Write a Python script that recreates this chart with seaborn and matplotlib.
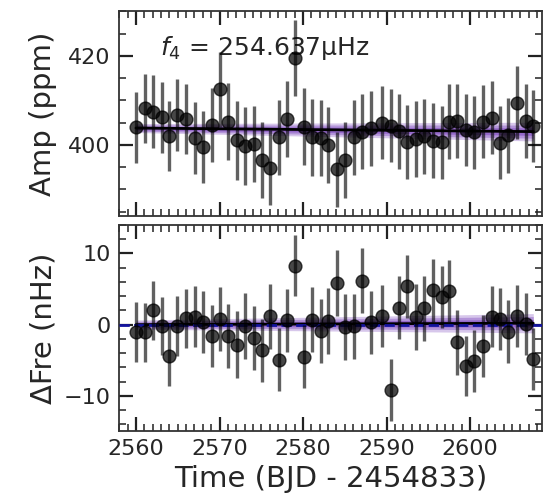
import numpy as np
import pandas as pd
import matplotlib
matplotlib.use("Agg")
import matplotlib.pyplot as plt
import seaborn as sns
from matplotlib.ticker import MultipleLocator

# ---------------- data ----------------
time_offset = [0.00, 1.03, 2.03, 3.06, 4.01, 4.94, 6.01, 7.01, 8.08, 9.08,
               10.00, 11.07, 12.08, 13.07, 14.07, 15.07, 16.06, 17.06, 18.13, 19.09,
               20.09, 21.12, 22.12, 23.03, 24.04, 25.03, 26.11, 27.10, 28.11, 29.42,
               30.50, 31.49, 32.48, 33.52, 34.52, 35.53, 36.60, 37.48, 38.47, 39.51,
               40.50, 41.58, 42.58, 43.58, 44.57, 45.57, 46.68, 47.55]
t0 = 2560.0

amp = [404.0, 408.2, 407.5, 406.2, 402.0, 406.7, 405.8, 401.5, 399.5, 404.5,
       412.5, 405.2, 401.1, 399.8, 400.2, 396.6, 394.9, 401.7, 405.8, 419.5,
       404.1, 401.7, 401.6, 400.0, 394.5, 396.6, 401.7, 403.0, 403.7, 405.0,
       404.3, 403.1, 400.7, 401.3, 401.9, 400.9, 400.6, 405.2, 405.4, 403.4,
       402.8, 405.2, 406.1, 400.5, 402.2, 409.5, 405.4, 404.3]
amp_err = [7.98, 7.79, 8.13, 7.94, 7.83, 8.09, 7.90, 8.09, 8.13, 8.24,
           8.43, 8.65, 8.88, 8.80, 8.58, 8.61, 8.43, 8.50, 8.50, 8.61,
           8.61, 8.73, 8.50, 8.50, 8.43, 8.46, 8.50, 8.43, 8.50, 8.24,
           8.24, 8.43, 8.31, 8.61, 8.50, 8.43, 8.24, 8.43, 8.39, 8.05,
           8.20, 8.20, 8.16, 8.16, 8.43, 8.24, 8.39, 8.13]

dfre = [-1.0, -1.1, 2.0, -0.2, -4.4, -0.2, 0.9, 1.1, 0.4, -1.6,
        0.8, -1.6, -2.8, -0.2, -1.9, -3.6, 1.2, -4.9, 0.6, 8.3,
        -4.5, 0.7, -0.9, 0.5, 5.8, -0.3, -0.2, 6.2, 0.3, 1.2,
        -9.2, 2.4, 5.4, 1.1, 2.3, 4.8, 3.9, 4.7, -2.5, -5.8,
        -5.1, -3.0, 1.1, 0.8, -1.0, 1.2, 0.1, -4.8]
dfre_err = [4.21, 4.14, 4.17, 4.12, 4.21, 4.26, 4.14, 4.26, 4.33, 4.35,
            4.45, 4.52, 4.75, 4.68, 4.52, 4.45, 4.56, 4.38, 4.45, 4.33,
            4.45, 4.61, 4.45, 4.63, 4.63, 4.63, 4.56, 4.52, 4.40, 4.31,
            4.38, 4.40, 4.40, 4.63, 4.56, 4.49, 4.38, 4.40, 4.52, 4.24,
            4.35, 4.33, 4.31, 4.33, 4.45, 4.33, 4.38, 4.33]

fit_t = [2560.0, 2607.55]
amp_fit = [403.8, 403.0]
amp_band = [1.0, 2.1]
dfre_fit = [0.0, 0.2]
dfre_band = [0.65, 1.35]

freq_label = r"$f_4$ = 254.637μHz"
xlabel = "Time (BJD - 2454833)"
ylabel_top = "Amp (ppm)"
ylabel_bot = "ΔFre (nHz)"

# ---------------- figure ----------------
sns.set_style("ticks")
plt.rcParams['font.family'] = ['DejaVu Sans']

time = [t0 + v for v in time_offset]
df = pd.DataFrame({"time": time, "amp": amp, "amp_err": amp_err,
                   "dfre": dfre, "dfre_err": dfre_err})
fit = pd.DataFrame({"time": fit_t, "amp": amp_fit, "amp_band": amp_band,
                    "dfre": dfre_fit, "dfre_band": dfre_band})

fig = plt.figure(figsize=(5.52, 4.95), dpi=100)
ax1 = fig.add_axes([0.216, 0.5642, 0.766, 0.4136])
ax2 = fig.add_axes([0.216, 0.1299, 0.766, 0.4156], sharex=ax1)

purple = "#7236b8"

def draw(ax, col, errcol, bandcol):
    ft = np.array(fit["time"])
    fy = np.array(fit[col])
    fb = np.array(fit[bandcol])
    for frac, a in [(1.0, 0.28), (0.7, 0.35), (0.4, 0.45)]:
        ax.fill_between(ft, fy - frac * fb, fy + frac * fb, color=purple,
                        alpha=a, linewidth=0, zorder=2)
    sns.lineplot(data=fit, x="time", y=col, ax=ax, color="black", lw=2.0, zorder=3)
    ax.errorbar(df["time"], df[col], yerr=df[errcol], fmt="none",
                ecolor="black", alpha=0.62, elinewidth=2.4, zorder=4)
    sns.scatterplot(data=df, x="time", y=col, ax=ax, color="black", alpha=0.72,
                    s=85, edgecolor="black", linewidth=1.0, zorder=5)

draw(ax1, "amp", "amp_err", "amp_band")
draw(ax2, "dfre", "dfre_err", "dfre_band")
ax2.axhline(0, color="#1414a0", ls="--", lw=2.0, zorder=3.5)

ax1.text(0.096, 0.82, freq_label, transform=ax1.transAxes, fontsize=18,
         va="center", ha="left", zorder=1)

ax1.set_xlim(2558.0, 2608.6)
ax1.set_ylim(384.1, 430.1)
ax2.set_ylim(-14.9, 14.0)

ax1.xaxis.set_major_locator(MultipleLocator(10))
ax1.xaxis.set_minor_locator(MultipleLocator(1))
ax1.yaxis.set_major_locator(MultipleLocator(20))
ax1.yaxis.set_minor_locator(MultipleLocator(5))
ax2.yaxis.set_major_locator(MultipleLocator(10))
ax2.yaxis.set_minor_locator(MultipleLocator(2))

for ax in (ax1, ax2):
    ax.tick_params(which="both", direction="in", top=True, right=True,
                   labelsize=16, color="#222222")
    ax.tick_params(which="major", length=10, width=1.6, pad=6)
    ax.tick_params(which="minor", length=5, width=1.1)
    for sp in ax.spines.values():
        sp.set_color("#333333")
        sp.set_linewidth(1.3)
    ax.set_xlabel("")

ax1.tick_params(labelbottom=False)
ax1.set_ylabel(ylabel_top, fontsize=21)
ax2.set_ylabel(ylabel_bot, fontsize=21)
ax2.set_xlabel(xlabel, fontsize=21)
ax1.yaxis.set_label_coords(-0.147, 0.5)
ax2.yaxis.set_label_coords(-0.147, 0.5)

fig.savefig("out.png", dpi=100)
